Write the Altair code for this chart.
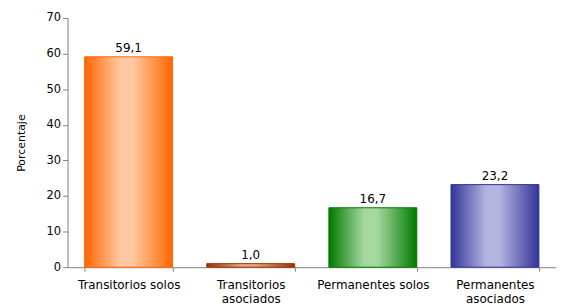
import altair as alt
import pandas as pd

categories = ["Transitorios solos", "Transitorios asociados", "Permanentes solos", "Permanentes asociados"]
values = [59.1, 1.0, 16.7, 23.2]
labels = ["59,1", "1,0", "16,7", "23,2"]
edge_colors = ["#FF6600", "#993300", "#007A00", "#333399"]
mid_colors = ["#FFC8A0", "#E8A888", "#A4D8A0", "#B4B4E0"]
y_ticks = [0, 10, 20, 30, 40, 50, 60, 70]

df = pd.DataFrame({"cat": categories, "val": values, "lab": labels})

FONT = "DejaVu Sans"

x_enc = alt.X("cat:N", sort=categories, title=None,
              scale=alt.Scale(paddingInner=0.28, paddingOuter=0.14),
              axis=alt.Axis(labelAngle=0, tickBand="extent", labelFontSize=12,
                            labelFont=FONT, labelColor="#000000", domainColor="#808080",
                            tickColor="#808080", tickSize=4, labelPadding=8,
                            labelLineHeight=15,
                            labelExpr="indexof(datum.label, 'asociados') > 0 ? split(datum.label, ' ') : datum.label"))
y_enc = alt.Y("val:Q", title="Porcentaje",
              scale=alt.Scale(domain=[0, 70], nice=False),
              axis=alt.Axis(values=y_ticks, grid=False, labelOverlap=False,
                            labelFontSize=11.5, labelFont=FONT, labelColor="#000000",
                            titleFont=FONT, titleFontSize=11, titleFontWeight="normal",
                            titleColor="#000000", titlePadding=20,
                            domainColor="#808080", tickColor="#808080", tickSize=5))

layers = []
for i, c in enumerate(categories):
    grad = alt.LinearGradient(
        gradient="linear", x1=0, x2=1, y1=0, y2=0,
        stops=[alt.GradientStop(offset=0, color=edge_colors[i]),
               alt.GradientStop(offset=0.4, color=mid_colors[i]),
               alt.GradientStop(offset=0.55, color=mid_colors[i]),
               alt.GradientStop(offset=1, color=edge_colors[i])])
    layers.append(
        alt.Chart(df).transform_filter(alt.datum.cat == c)
        .mark_bar(color=grad, stroke=edge_colors[i], strokeWidth=1)
        .encode(x=x_enc, y=y_enc)
    )

text = alt.Chart(df).mark_text(dy=-9, fontSize=12, font=FONT, color="#000000").encode(
    x=x_enc, y=y_enc, text="lab:N")

chart = alt.layer(*layers, text).properties(
    width=492, height=251,
    autosize=alt.AutoSizeParams(type="none"),
    padding={"left": 60, "top": 9, "right": 0, "bottom": 40},
    background="white",
).configure_view(stroke=None)

chart.save("out.html", embed_options={"renderer": "svg", "actions": False})
